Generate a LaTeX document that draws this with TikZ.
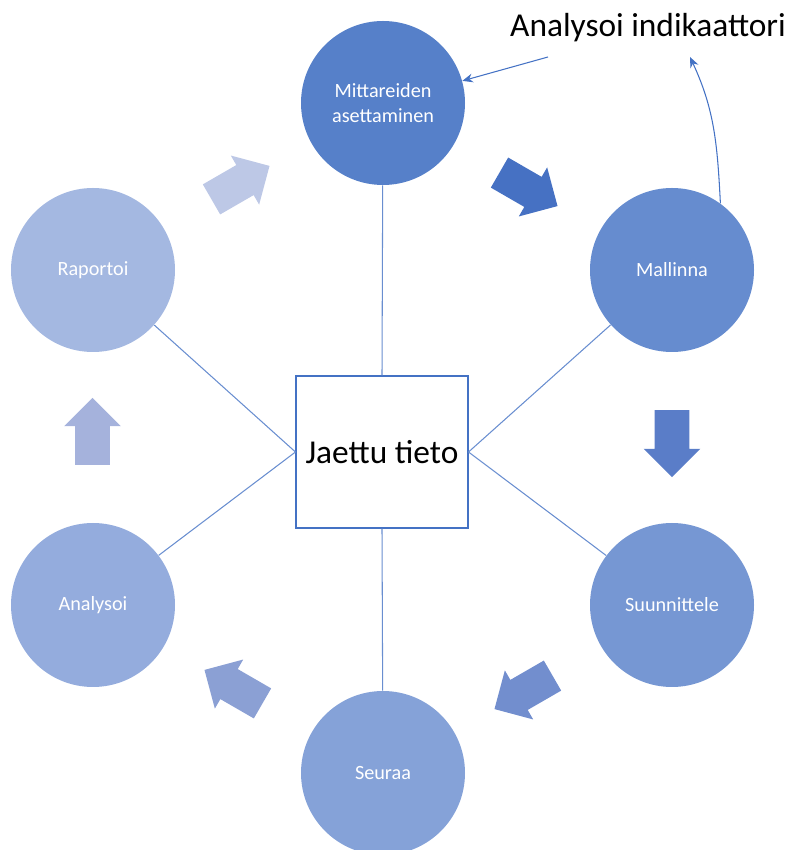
\documentclass[tikz,border=0pt]{standalone}
\usepackage{fontspec}
\setmainfont{Carlito}
\usepackage{xcolor}
\usepackage{tikz}
\usetikzlibrary{arrows.meta,shapes.arrows}
\definecolor{accent}{RGB}{68,114,196}
\definecolor{stageA}{RGB}{86,128,201}
\definecolor{stageB}{RGB}{102,140,207}
\definecolor{stageC}{RGB}{118,151,211}
\definecolor{stageD}{RGB}{133,162,216}
\definecolor{stageE}{RGB}{148,172,221}
\definecolor{stageF}{RGB}{164,184,225}
\definecolor{flowA}{RGB}{70,113,195}
\definecolor{flowB}{RGB}{90,125,200}
\definecolor{flowC}{RGB}{114,142,206}
\definecolor{flowD}{RGB}{139,160,212}
\definecolor{flowE}{RGB}{165,178,220}
\definecolor{flowF}{RGB}{189,200,230}

\begin{document}
\begin{tikzpicture}[>={Stealth[length=6pt,width=5pt]},
  stage/.style={circle, minimum size=3.28cm, inner sep=0pt, text=white,
    font=\fontsize{11.5}{14}\selectfont, align=center},
  flow/.style={single arrow, draw=none, minimum height=1.34cm,
    inner xsep=0pt, inner ysep=0.34cm, single arrow head extend=0.22cm},
  link/.style={draw=accent!80!white, line width=0.6pt},
  pointer/.style={->, draw=accent, line width=0.6pt}]
  \useasboundingbox (0,0) rectangle (15.9,17);

  \node[draw=accent, line width=0.6pt, minimum width=3.44cm, minimum height=3.04cm,
    font=\fontsize{19}{22}\selectfont] (hub) at (7.64,7.96) {Jaettu tieto};

  \node[stage, fill=stageA] (mit) at (7.66,14.94) {Mittareiden\\asettaminen};
  \node[stage, fill=stageB] (mal) at (13.44,11.6) {Mallinna};
  \node[stage, fill=stageC] (suu) at (13.44,4.9) {Suunnittele};
  \node[stage, fill=stageD] (seu) at (7.66,1.54) {Seuraa};
  \node[stage, fill=stageE] (ana) at (1.86,4.9) {Analysoi};
  \node[stage, fill=stageF] (rap) at (1.86,11.6) {Raportoi};

  \draw[link] (hub.north) -- (mit);
  \draw[link] (hub.east) -- (mal);
  \draw[link] (hub.east) -- (suu);
  \draw[link] (hub.south) -- (seu);
  \draw[link] (hub.west) -- (ana);
  \draw[link] (hub.west) -- (rap);

  % block arrows round the cycle
  \node[flow, fill=flowA, rotate=-30] (f1) at (10.42,13.30) {};
  \node[flow, fill=flowB, rotate=-90] (f2) at (13.44,8.30) {};
  \node[flow, fill=flowC, rotate=210] (f3) at (10.62,3.24) {};
  \node[flow, fill=flowD, rotate=150] (f4) at (4.82,3.18) {};
  \node[flow, fill=flowE, rotate=90] (f5) at (1.85,8.20) {};
  \node[flow, fill=flowF, rotate=30] (f6) at (4.66,13.26) {};

  \node[font=\fontsize{19}{22}\selectfont] (ind) at (12.96,16.44) {Analysoi indikaattori};
  \coordinate (p1) at (10.96,15.86);
  \coordinate (p2) at (13.80,15.86);
  \draw[pointer] (p1) -- (mit);
  \draw[pointer] (mal.54) to[out=93,in=-65] (p2);
\end{tikzpicture}
\end{document}
